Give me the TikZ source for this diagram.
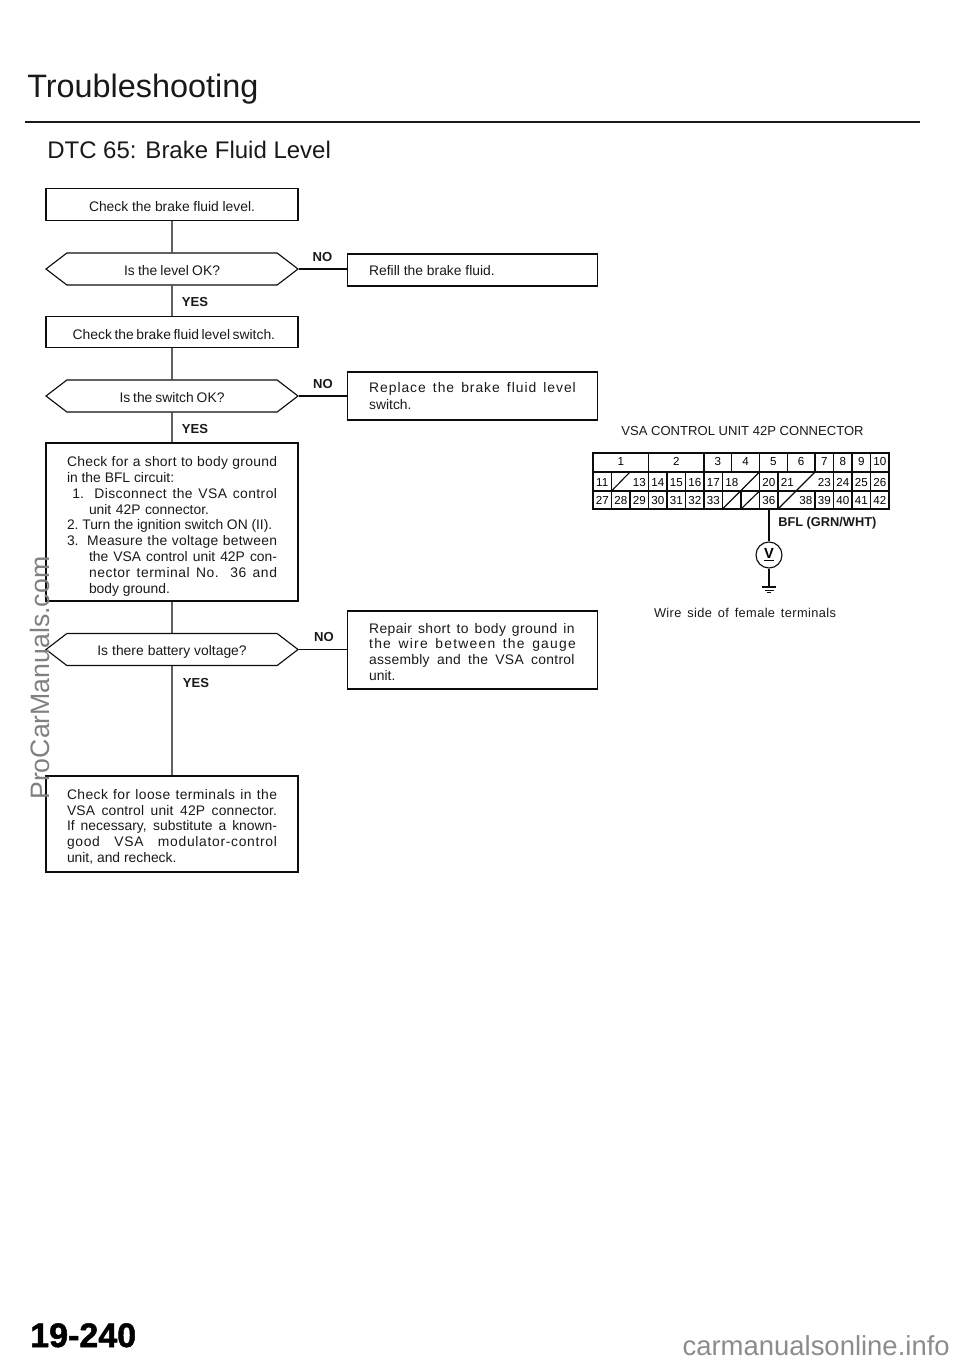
\documentclass[tikz,border=0pt]{standalone}
\usepackage{fontspec}
\setmainfont{Liberation Sans}
\usetikzlibrary{shapes.symbols}
% \jl[indent]{width}{text}: a line stretched to a fixed width
\newcommand{\jl}[3][0]{\hspace*{#1pt}\makebox[#2pt][s]{#3}}
\newcommand{\lsp}[2]{{\addfontfeature{LetterSpace=#1}#2}}
\tikzset{
  ink/.style={draw=black!95,line width=0.85pt},
  procbox/.style={ink,rectangle,inner sep=0pt,align=left,text=black!90,font=\fontsize{10.4}{12}\selectfont},
  deci/.style={ink,signal,signal to=west and east,signal pointer angle=75,inner sep=0pt,minimum width=189pt,minimum height=24pt,text=black!90,font=\fontsize{10.4}{12}\selectfont},
  flag/.style={font=\fontsize{9.8}{10}\bfseries\selectfont,text=black!90,inner sep=0pt},
  pin/.style={anchor=base,font=\fontsize{8.7}{9}\selectfont,text=black,inner sep=0pt},
  conn/.style={ink}
}
\begin{document}
\begin{tikzpicture}[x=0.75pt,y=-0.75pt]
\useasboundingbox (0,0) rectangle (960,1361);
% headers
\node[anchor=base west,inner sep=0pt,font=\fontsize{24.3}{30}\selectfont,text=black!90] (title) at (27,97) {Troubleshooting};
\coordinate (ruleL) at (25,122);
\coordinate (ruleR) at (920,122);
\draw[line width=2.1pt,black!90] (ruleL) -- (ruleR);
\node[anchor=base west,inner sep=0pt,font=\fontsize{18}{24}\selectfont,text=black!90] (dtc) at (47,158) {DTC 65: Brake Fluid Level};
% left column
\node[procbox,minimum width=189pt,minimum height=23.5pt,text height=10.5pt,text depth=0pt] (b1) at (172,204.5) {\makebox[124.5pt][s]{Check the brake fluid level.}};
\node[deci,text height=9pt,text depth=0pt] (d1) at (172,269) {\makebox[72pt][s]{Is the level OK?}};
\node[procbox,minimum width=189pt,minimum height=23.5pt,text height=10.5pt,text depth=0pt] (b2) at (172,332) {\makebox[149pt][s]{Check the brake fluid level switch.}};
\node[deci,text height=10pt,text depth=0pt] (d2) at (172,396) {\makebox[78.75pt][s]{Is the switch OK?}};
\node[procbox,minimum width=189pt,minimum height=118.5pt] (b3) at (172,522) {%
\begin{minipage}{157.5pt}\vspace*{6.5pt}\baselineskip=11.85pt
\jl{157.5}{\lsp{2}{Check for a short to body ground}}\\
in the BFL circuit:\\
\jl[4]{153.5}{1.\ \ \lsp{3}{Disconnect the VSA control}}\\
\hspace*{16.5pt}\makebox[90pt][s]{unit 42P connector.}\\
\makebox[154pt][s]{2.\ Turn the ignition switch ON (II).}\\
\jl{157.5}{3.\ \ \lsp{2}{Measure the voltage between}}\\
\jl[16.5]{141}{the VSA control unit 42P con-}\\
\jl[16.5]{141}{\lsp{4}{nector terminal No. 36 and}}\\
\hspace*{16.5pt}body ground.
\end{minipage}};
\node[deci,text height=9pt,text depth=0pt] (d3) at (172,649.5) {\makebox[112pt][s]{Is there battery voltage?}};
\node[procbox,minimum width=189pt,minimum height=72pt] (b4) at (172,824) {%
\begin{minipage}{157.5pt}\vspace*{4.2pt}\baselineskip=11.8pt
\jl{157.5}{\lsp{3}{Check for loose terminals in the}}\\
\jl{157.5}{\lsp{1}{VSA control unit 42P connector.}}\\
\jl{157.5}{If necessary, substitute a known-}\\
\jl{157.5}{\lsp{5}{good VSA modulator-control}}\\
unit, and recheck.
\end{minipage}};
% right column
\node[procbox,minimum width=187.5pt,minimum height=24pt] (r1) at (472.5,270) {%
\begin{minipage}{155pt}\vspace*{1.5pt}Refill the brake fluid.\end{minipage}};
\node[procbox,minimum width=187pt,minimum height=36pt] (r2) at (472.5,396) {%
\begin{minipage}{155pt}\baselineskip=12.8pt
\jl{155}{\lsp{7}{Replace the brake fluid level}}\\
switch.
\end{minipage}};
\node[procbox,minimum width=187pt,minimum height=58.5pt] (r3) at (472.5,650) {%
\begin{minipage}{155pt}\vspace*{2.6pt}\baselineskip=11.8pt
\jl{154}{\lsp{3}{Repair short to body ground in}}\\
\jl{155}{\lsp{9}{the wire between the gauge}}\\
\jl{154}{\lsp{2}{assembly and the VSA control}}\\
unit.
\end{minipage}};
% connectors
\draw[conn] (b1) -- (d1);
\draw[conn] (d1) -- (b2);
\draw[conn] (b2) -- (d2);
\draw[conn] (d2) -- (b3);
\draw[conn] (b3) -- (d3);
\draw[conn] (d3) -- (b4);
\draw[conn] (d1.east) -- (d1.east -| r1.west);
\draw[conn] (d2.east) -- (d2.east -| r2.west);
\draw[conn] (d3.east) -- (d3.east -| r3.west);
\node[flag] (y1) at (195,302) {YES};
\node[flag] (y2) at (195,429) {YES};
\node[flag] (y3) at (196,683) {YES};
\node[flag] (n1) at (322.5,257) {NO};
\node[flag] (n2) at (323,384) {NO};
\node[flag] (n3) at (324,637) {NO};
% connector diagram
\node[inner sep=0pt,font=\fontsize{9.8}{12}\selectfont,text=black!90] (ct) at (742.5,431) {VSA CONTROL UNIT 42P CONNECTOR};
\draw[ink] (593,453) rectangle (889,509);
\draw[ink] (593,472) -- (889,472);
\draw[ink] (593,491) -- (889,491);
\foreach \c in {3,6,7.5,9,10.5,12,13,14,15}
  \draw[ink] ({593+18.5*\c},453) -- ({593+18.5*\c},472);
\foreach \c/\t in {1.5/1,4.5/2,6.75/3,8.25/4,9.75/5,11.25/6,12.5/7,13.5/8,14.5/9,15.5/10}
  \node[pin] at ({593+18.5*\c},465.5) {\t};
\foreach \c in {1,3,4,5,6,7,9,10,13,14,15}
  \draw[ink] ({593+18.5*\c},472) -- ({593+18.5*\c},491);
\foreach \c in {1,2,3,4,5,6,7,8,9,10,12,13,14,15}
  \draw[ink] ({593+18.5*\c},491) -- ({593+18.5*\c},509);
\foreach \c/\t in {0/11,2/13,3/14,4/15,5/16,6/17,7/18,9/20,10/21,12/23,13/24,14/25,15/26}
  \node[pin] at ({593+18.5*\c+9.25},486) {\t};
\foreach \c/\t in {0/27,1/28,2/29,3/30,4/31,5/32,6/33,9/36,11/38,12/39,13/40,14/41,15/42}
  \node[pin] at ({593+18.5*\c+9.25},504.5) {\t};
% blanked terminals: diagonal strokes
\draw[ink] ({593+18.5*1},491) -- ({593+18.5*2},472);
\draw[ink] ({593+18.5*7},509) -- ({593+18.5*9},472);
\draw[ink] ({593+18.5*8},509) -- ({593+18.5*9},491);
\draw[ink] ({593+18.5*10},509) -- ({593+18.5*12},472);
\coordinate (pin36) at (769,509);
\node[ink,circle,minimum size=19.5pt,inner sep=0pt,font=\fontsize{11}{12}\bfseries\selectfont] (vm) at (769,555) {\underline{V}};
\coordinate (gnd) at (769,587);
\draw[ink] (pin36) -- (vm);
\draw[ink] (vm) -- (gnd);
\draw[ink] (762,587) -- (776,587);
\draw[ink,line width=0.6pt] (764.5,590) -- (773.5,590);
\draw[ink,line width=0.6pt] (767,592.5) -- (771,592.5);
\node[anchor=west,inner sep=0pt,font=\fontsize{9.6}{10}\bfseries\selectfont,text=black!90] (bfl) at (778,523) {BFL (GRN/WHT)};
\node[inner sep=0pt,font=\fontsize{9.6}{12}\selectfont,text=black!90] (ws) at (745,613) {\makebox[136.5pt][s]{\lsp{3}{Wire side of female terminals}}};
% page number and marks
\node[anchor=base west,inner sep=0pt,font=\fontsize{25.5}{30}\bfseries\selectfont] (pg) at (30,1347) {\addfontfeature{FakeBold=1.5}19-240};
\node[anchor=base east,inner sep=0pt,font=\fontsize{20.6}{24}\selectfont,text=black!45] (cm) at (950,1355) {carmanualsonline.info};
\node[anchor=base west,rotate=90,inner sep=0pt,font=\fontsize{20}{24}\selectfont,text=black!50] (pcm) at (50,800) {ProCarManuals.com};
\end{tikzpicture}
\end{document}
